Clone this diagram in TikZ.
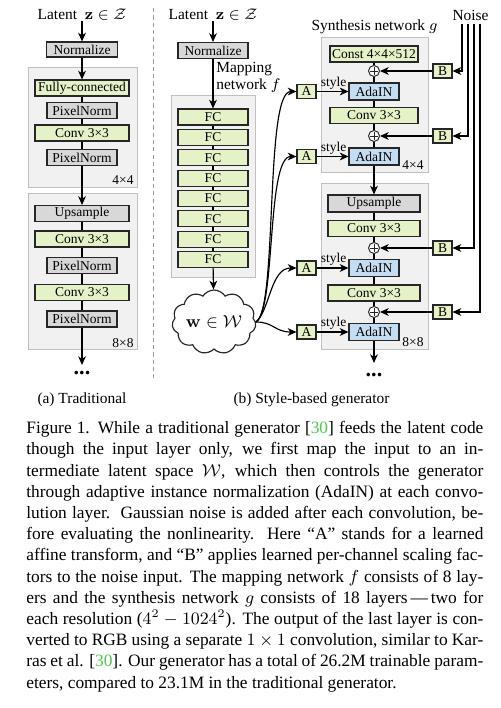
\documentclass[tikz,border=0pt]{standalone}
\usepackage[no-math]{fontspec}
\setmainfont{Liberation Serif}
\usetikzlibrary{arrows.meta,shapes.symbols}
\definecolor{gfill}{RGB}{229,241,199}
\definecolor{bfill}{RGB}{197,221,242}
\definecolor{kfill}{RGB}{216,216,216}
\definecolor{cfill}{RGB}{241,241,241}
\definecolor{cline}{RGB}{192,192,192}
\definecolor{citegreen}{RGB}{80,200,80}
\def\pxu{0.5185pt}
\begin{document}
\begin{tikzpicture}[x=0.5185pt,y=-0.5185pt,
  box/.style={draw=black!85,line width=0.55pt,minimum height=16*\pxu,inner sep=0pt,font=\fontsize{7}{8}\selectfont},
  greenbox/.style={box,fill=gfill},
  graybox/.style={box,fill=kfill},
  bluebox/.style={box,fill=bfill,minimum width=50*\pxu,minimum height=17*\pxu},
  smallbox/.style={greenbox,minimum width=19*\pxu,minimum height=14*\pxu},
  contbox/.style={draw=cline,fill=cfill,line width=0.6pt,anchor=north west,inner sep=0pt},
  lbl/.style={font=\fontsize{8}{9}\selectfont,inner sep=0pt},
  reslbl/.style={font=\fontsize{7}{8}\selectfont,inner sep=0pt},
  dotsnode/.style={font=\bfseries\fontsize{11.5}{11.5}\selectfont,inner sep=0pt},
  arr/.style={-{Stealth[length=4.5pt,width=4pt,inset=1.3pt]},line width=0.6pt},
  ln/.style={line width=0.6pt},
  plusnode/.style={circle,draw=black!85,fill=white,line width=0.5pt,minimum size=11*\pxu,inner sep=0pt,
    path picture={\draw[line width=0.5pt] (path picture bounding box.center) ++(-1.9pt,0) -- ++(3.8pt,0);
                  \draw[line width=0.5pt] (path picture bounding box.center) ++(0,-1.9pt) -- ++(0,3.8pt);}}
]
\fill[white] (0,0) rectangle (500,708);
\useasboundingbox (0,0) rectangle (500,708);

% ---------------- (a) traditional
\node[contbox,minimum width=109*\pxu,minimum height=120*\pxu] (t1) at (28,67) {};
\node[contbox,minimum width=109*\pxu,minimum height=156*\pxu] (t2) at (28,193) {};
\node[lbl] (tlat) at (82,15) {Latent \ $\mathbf{z}\in\mathcal{Z}$};
\node[graybox,minimum width=71*\pxu,minimum height=15*\pxu] (tnorm) at (82,49.5) {Normalize};
\node[greenbox,minimum width=94*\pxu] (tfc) at (82,88) {Fully-connected};
\node[graybox,minimum width=70*\pxu] (tpn1) at (82,110.5) {PixelNorm};
\node[greenbox,minimum width=94*\pxu] (tcv1) at (82,133) {Conv 3×3};
\node[graybox,minimum width=70*\pxu] (tpn2) at (82,157.5) {PixelNorm};
\node[reslbl] (tr1) at (123,180) {4×4};
\node[graybox,minimum width=94*\pxu] (tup) at (82,213.5) {Upsample};
\node[greenbox,minimum width=94*\pxu] (tcv2) at (82,239) {Conv 3×3};
\node[graybox,minimum width=70*\pxu] (tpn3) at (82,265.5) {PixelNorm};
\node[greenbox,minimum width=94*\pxu] (tcv3) at (82,292.5) {Conv 3×3};
\node[graybox,minimum width=70*\pxu] (tpn4) at (82,319) {PixelNorm};
\node[reslbl] (tr2) at (123,343) {8×8};
\coordinate (tend) at (82,365);
\node[dotsnode] (tdots) at (82,373) {...};
\draw[arr] (tlat) -- (tnorm);
\draw[arr] (tnorm) -- (tfc);
\draw[ln] (tfc) -- (tpn1);
\draw[ln] (tpn1) -- (tcv1);
\draw[ln] (tcv1) -- (tpn2);
\draw[arr] (tpn2) -- (tup);
\draw[ln] (tup) -- (tcv2);
\draw[ln] (tcv2) -- (tpn3);
\draw[ln] (tpn3) -- (tcv3);
\draw[ln] (tcv3) -- (tpn4);
\draw[arr] (tpn4) -- (tend);

% separator
\draw[cline!80!black,line width=0.5pt,dash pattern=on 2.2pt off 1.6pt] (153.5,8) -- (153.5,378);

% ---------------- (b) mapping network
\node[contbox,minimum width=84*\pxu,minimum height=182*\pxu] (mc) at (171,95) {};
\node[lbl] (mlat) at (213,15) {Latent \ $\mathbf{z}\in\mathcal{Z}$};
\node[graybox,minimum width=70*\pxu] (mnorm) at (213,50.5) {Normalize};
\node[lbl,anchor=north west,align=left,font=\fontsize{8}{8.6}\selectfont] (mlab) at (216,62) {Mapping\\network $f$};
\foreach \i in {1,...,8}
  \node[greenbox,minimum width=70*\pxu] (fc\i) at (213,{117+(\i-1)*20.35}) {FC};
\foreach \i/\j in {1/2,2/3,3/4,4/5,5/6,6/7,7/8}
  \draw[ln] (fc\i) -- (fc\j);
\draw[arr] (mlat) -- (mnorm);
\draw[arr] (mnorm) -- (fc1);
\node[cloud,draw=black!85,fill=white,line width=0.6pt,cloud puffs=11,cloud puff arc=115,cloud ignores aspect,
      minimum width=84*\pxu,minimum height=64*\pxu,inner sep=0pt,font=\fontsize{9}{10}\selectfont] (w) at (214,322) {$\mathbf{w}\in\mathcal{W}$};
\draw[arr] (fc8) -- (w);

% ---------------- synthesis network
\node[contbox,minimum width=107*\pxu,minimum height=135*\pxu] (s1) at (321,37) {};
\node[contbox,minimum width=107*\pxu,minimum height=166*\pxu] (s2) at (321,183) {};
\node[lbl] (slab) at (374.5,27) {Synthesis network $g$};
\node[greenbox,minimum width=88*\pxu] (const) at (374,54) {Const 4×4×512};
\node[plusnode] (p1) at (374,71) {};
\node[bluebox] (ada1) at (374,91.5) {AdaIN};
\node[greenbox,minimum width=88*\pxu] (sc1) at (374,115.5) {Conv 3×3};
\node[plusnode] (p2) at (374,136) {};
\node[bluebox] (ada2) at (374,156.5) {AdaIN};
\node[reslbl] (sr1) at (413,165) {4×4};
\node[graybox,minimum width=92*\pxu,minimum height=17*\pxu] (sup) at (374,203.5) {Upsample};
\node[greenbox,minimum width=92*\pxu] (sc2) at (374,228.5) {Conv 3×3};
\node[plusnode] (p3) at (374,248) {};
\node[bluebox] (ada3) at (374,268) {AdaIN};
\node[greenbox,minimum width=92*\pxu] (sc3) at (374,293) {Conv 3×3};
\node[plusnode] (p4) at (374,312) {};
\node[bluebox] (ada4) at (374,332) {AdaIN};
\node[reslbl] (sr2) at (413,342) {8×8};
\coordinate (send) at (374,363);
\node[dotsnode] (sdots) at (374,375) {...};
\draw[ln] (const) -- (p1);
\draw[ln] (p1) -- (ada1);
\draw[ln] (ada1) -- (sc1);
\draw[ln] (sc1) -- (p2);
\draw[ln] (p2) -- (ada2);
\draw[arr] (ada2) -- (sup);
\draw[ln] (sup) -- (sc2);
\draw[ln] (sc2) -- (p3);
\draw[ln] (p3) -- (ada3);
\draw[ln] (ada3) -- (sc3);
\draw[ln] (sc3) -- (p4);
\draw[ln] (p4) -- (ada4);
\draw[arr] (ada4) -- (send);

% A boxes
\node[smallbox] (a1) at (306.5,91.5) {A};
\node[smallbox] (a2) at (306.5,156.5) {A};
\node[smallbox] (a3) at (306.5,268) {A};
\node[smallbox] (a4) at (306.5,332) {A};
\foreach \k in {1,...,4}
  \draw[arr] (a\k) -- (ada\k) node[pos=1,anchor=south east,inner sep=0.8pt,font=\fontsize{7}{8}\selectfont] {style};
\draw[arr] (w.east) .. controls +(22,-12) and +(-32,0) .. (a1.west);
\draw[arr] (w.east) .. controls +(20,-12) and +(-30,0) .. (a2.west);
\draw[arr] (w.east) .. controls +(14,-12) and +(-26,0) .. (a3.west);
\draw[arr] (w.east) .. controls +(18,0) and +(-22,0) .. (a4.west);

% B boxes and noise
\node[smallbox] (b1) at (442.5,71) {B};
\node[smallbox] (b2) at (442.5,136) {B};
\node[smallbox] (b3) at (442.5,248) {B};
\node[smallbox] (b4) at (442.5,312) {B};
\node[lbl] (noise) at (470.5,15) {Noise};
\coordinate (n1) at (462,24);
\coordinate (n2) at (468,24);
\coordinate (n3) at (474,24);
\coordinate (n4) at (480,24);
\foreach \k in {1,...,4} {
  \draw[arr] (n\k) |- (b\k);
  \draw[arr] (b\k) -- (p\k);
}

% sub captions
\node[font=\fontsize{8}{9}\selectfont,inner sep=0pt] (capa) at (82,400) {(a) Traditional};
\node[font=\fontsize{8}{9}\selectfont,inner sep=0pt] (capb) at (311.5,400) {(b) Style-based generator};

% caption
\node[anchor=north west,inner sep=0pt,text width=457*\pxu,align=justify,font=\fontsize{9}{11}\selectfont] (cap) at (26,421) {%
\noindent\tolerance=10000\hyphenpenalty=10000\exhyphenpenalty=10000
Figure 1. While a traditional generator [\textcolor{citegreen}{30}] feeds the latent code\linebreak
though the input layer only, we first map the input to an in-\linebreak
termediate latent space $\mathcal{W}$, which then controls the generator\linebreak
through adaptive instance normalization (AdaIN) at each convo-\linebreak
lution layer.\ \ Gaussian noise is added after each convolution, be-\linebreak
fore evaluating the nonlinearity.\ \ Here “A” stands for a learned\linebreak
affine transform, and “B” applies learned per-channel scaling fac-\linebreak
tors to the noise input. The mapping network $f$ consists of 8 lay-\linebreak
ers and the synthesis network $g$ consists of 18 layers\,—\,two for\linebreak
each resolution ($4^2-1024^2$). The output of the last layer is con-\linebreak
verted to RGB using a separate $1\times1$ convolution, similar to Kar-\linebreak
ras et al. [\textcolor{citegreen}{30}]. Our generator has a total of 26.2M trainable param-\linebreak
eters, compared to 23.1M in the traditional generator.};
\end{tikzpicture}
\end{document}
